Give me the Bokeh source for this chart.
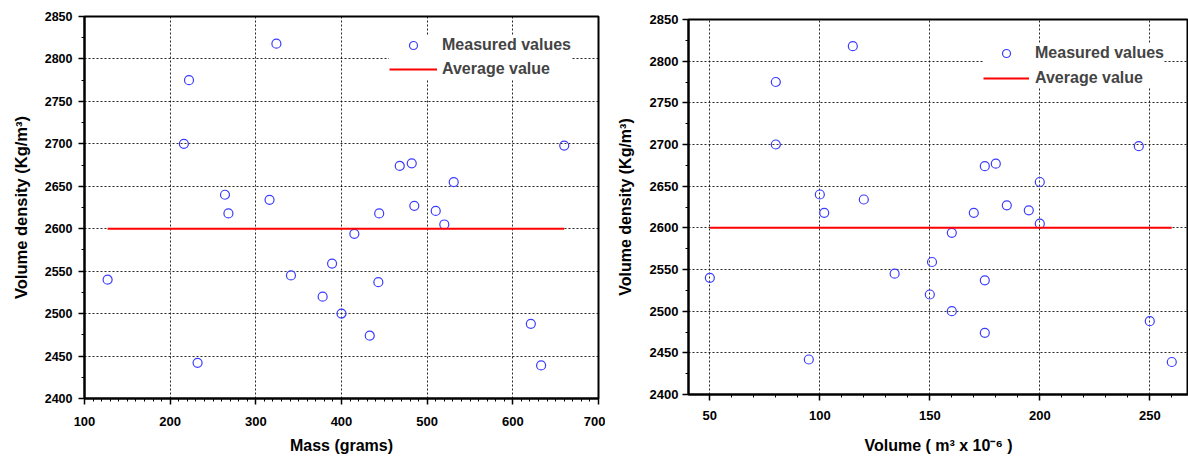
from bokeh.plotting import figure
from bokeh.models import Range1d, Legend, LegendItem, SingleIntervalTicker
from bokeh.embed import file_html
from bokeh.resources import INLINE

# ---- data ----
mass = [127, 216, 222, 232, 264, 268, 316, 324, 341, 378, 389, 400, 415,
        433, 443, 444, 468, 482, 485, 510, 520, 531, 621, 633, 660]
volume = [50, 80, 80, 95, 100, 102, 120, 115, 134, 150, 151, 160, 160,
          175, 175, 170, 175, 180, 185, 195, 200, 200, 250, 260, 245]
density = [2540, 2700, 2775, 2442, 2640, 2618, 2634, 2818, 2545, 2520, 2559, 2500, 2594,
           2474, 2537, 2618, 2674, 2677, 2627, 2621, 2605, 2655, 2488, 2439, 2698]
average_density = 2600

FONT = "Liberation Sans"
BLUE = "#3c3cff"
RED = "#ff0000"


def style(p):
    p.outline_line_color = "black"
    p.outline_line_width = 2
    p.background_fill_color = "white"
    p.border_fill_color = "white"
    for ax in (p.xaxis[0], p.yaxis[0]):
        ax.axis_line_width = 2
        ax.axis_line_color = "black"
        ax.major_tick_line_width = 1.5
        ax.minor_tick_line_width = 1
        ax.major_tick_out = 6
        ax.major_tick_in = 0
        ax.minor_tick_out = 3
        ax.minor_tick_in = 0
        ax.major_label_text_font = FONT
        ax.major_label_text_font_style = "bold"
        ax.major_label_text_color = "black"
        ax.axis_label_text_font = FONT
        ax.axis_label_text_font_style = "bold"
        ax.axis_label_text_color = "black"
    for g in (p.xgrid[0], p.ygrid[0]):
        g.grid_line_color = "black"
        g.grid_line_alpha = 0.85
        g.grid_line_dash = "2 2"
        g.grid_line_width = 1


# ---- left: density vs mass ----
p1 = figure(width=605, height=456, output_backend="svg", toolbar_location=None, title=None,
            x_range=Range1d(100, 700), y_range=Range1d(2400, 2850),
            min_border_left=84, min_border_right=7, min_border_top=16, min_border_bottom=58)
p1.xaxis.ticker = SingleIntervalTicker(interval=100, num_minor_ticks=10)
p1.yaxis.ticker = SingleIntervalTicker(interval=50, num_minor_ticks=2)
p1.xaxis.axis_label = "Mass (grams)"
p1.yaxis.axis_label = "Volume density (Kg/m³)"
style(p1)
p1.xaxis[0].major_label_text_font_size = "13px"
p1.yaxis[0].major_label_text_font_size = "12.5px"
p1.xaxis[0].axis_label_text_font_size = "16px"
p1.yaxis[0].axis_label_text_font_size = "16.5px"
p1.xaxis[0].major_label_standoff = 12
p1.xaxis[0].axis_label_standoff = 8
p1.yaxis[0].major_label_standoff = 6
p1.yaxis[0].axis_label_standoff = 12

r1 = p1.scatter(mass, density, marker="circle", size=9, fill_color=None,
                line_color=BLUE, line_width=1.2)
l1 = p1.line([min(mass), max(mass)], [average_density, average_density],
             line_color=RED, line_width=2)
leg1 = Legend(items=[LegendItem(label="Measured values", renderers=[r1]),
                     LegendItem(label="Average value", renderers=[l1])],
              location=(305, 319), padding=6, margin=0, spacing=4,
              glyph_width=48, glyph_height=20, label_height=20, label_standoff=5,
              label_text_font=FONT, label_text_font_style="bold", label_text_font_size="16px",
              border_line_color=None, background_fill_color="white", background_fill_alpha=1.0)
p1.add_layout(leg1, "center")

# ---- right: density vs volume ----
p2 = figure(width=583, height=456, output_backend="svg", toolbar_location=None, title=None,
            x_range=Range1d(40.3, 267.6), y_range=Range1d(2400, 2850),
            min_border_left=83, min_border_right=0, min_border_top=19, min_border_bottom=62)
p2.xaxis.ticker = SingleIntervalTicker(interval=50, num_minor_ticks=5)
p2.yaxis.ticker = SingleIntervalTicker(interval=50, num_minor_ticks=2)
p2.xaxis.axis_label = "Volume ( m³ x 10⁻⁶ )"
p2.yaxis.axis_label = "Volume density (Kg/m³)"
style(p2)
p2.xaxis[0].major_label_text_font_size = "13px"
p2.yaxis[0].major_label_text_font_size = "13px"
p2.xaxis[0].axis_label_text_font_size = "16px"
p2.yaxis[0].axis_label_text_font_size = "16px"
p2.xaxis[0].major_label_standoff = 10
p2.xaxis[0].axis_label_standoff = 14
p2.yaxis[0].major_label_standoff = 4
p2.yaxis[0].axis_label_standoff = 13

r2 = p2.scatter(volume, density, marker="circle", size=9, fill_color=None,
                line_color=BLUE, line_width=1.2)
l2 = p2.line([min(volume), max(volume)], [average_density, average_density],
             line_color=RED, line_width=2)
leg2 = Legend(items=[LegendItem(label="Measured values", renderers=[r2]),
                     LegendItem(label="Average value", renderers=[l2])],
              location=(295, 306), padding=4, margin=0, spacing=5,
              glyph_width=46, glyph_height=20, label_height=20, label_standoff=6,
              label_text_font=FONT, label_text_font_style="bold", label_text_font_size="16px",
              border_line_color=None, background_fill_color="white", background_fill_alpha=1.0)
p2.add_layout(leg2, "center")

# two independent roots placed side by side (so their frames are not aligned to each other)
TEMPLATE = """
{% block postamble %}
<style>
  body { display: flex !important; flex-direction: row; align-items: flex-start; }
</style>
{% endblock %}
"""
open("out.html", "w").write(file_html([p1, p2], INLINE, template=TEMPLATE))
